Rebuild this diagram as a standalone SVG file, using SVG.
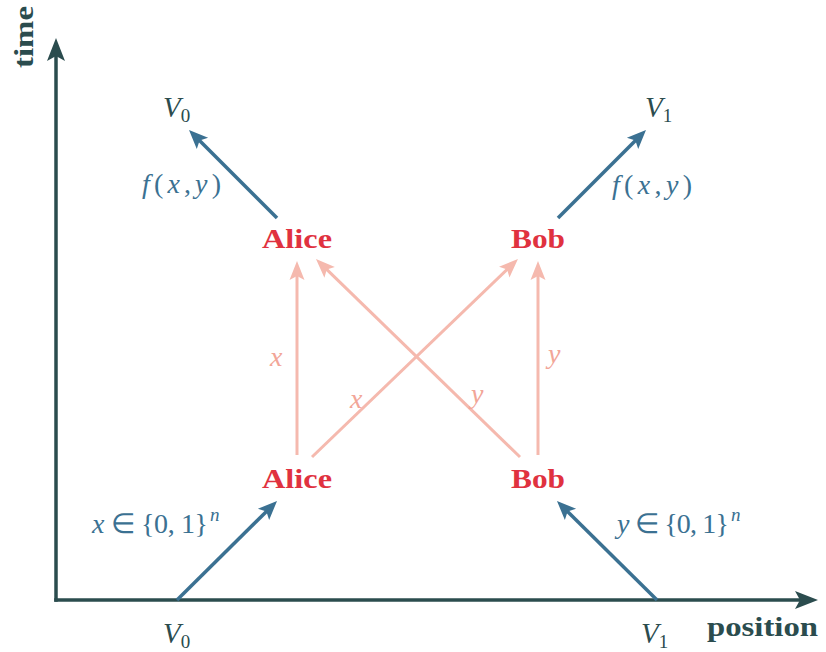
<svg xmlns="http://www.w3.org/2000/svg" width="826" height="652" viewBox="0 0 826 652">
<style>
.axis{stroke:#2b4c4e;stroke-width:3.5;fill:none}
.blue{stroke:#3b7192;stroke-width:3.5;fill:none}
.pink{stroke:#f5b9ae;stroke-width:3;fill:none}
.name{fill:#e0323f}
.dark{fill:#2b4c4e}
.it{font-style:italic}
.mb{fill:#3b7192}
.mp{fill:#f2a698}
</style>
<defs>
<marker id="ha" markerUnits="userSpaceOnUse" markerWidth="40" markerHeight="40" viewBox="-20 -20 40 40" refX="0" refY="0" orient="auto" overflow="visible">
<path d="M14,0 L-9,-9 L-4,0 L-9,9 Z" fill="#2b4c4e"/>
</marker>
<marker id="hb" markerUnits="userSpaceOnUse" markerWidth="40" markerHeight="40" viewBox="-20 -20 40 40" refX="0" refY="0" orient="auto" overflow="visible">
<path d="M12,0 L-7,-8 L-3,0 L-7,8 Z" fill="#3b7192"/>
</marker>
<marker id="hp" markerUnits="userSpaceOnUse" markerWidth="40" markerHeight="40" viewBox="-20 -20 40 40" refX="0" refY="0" orient="auto" overflow="visible">
<path d="M12,0 L-7,-7.5 L-3,0 L-7,7.5 Z" fill="#f5b9ae"/>
</marker>
</defs>

<g id="connectors">
<path class="axis" d="M56,601.75 L56,52" marker-end="url(#ha)"/>
<path class="axis" d="M54.25,600 L804,600" marker-end="url(#ha)"/>
<path class="blue" d="M177,600 L268.5,509.4" marker-end="url(#hb)"/>
<path class="blue" d="M657,600 L565.5,509.4" marker-end="url(#hb)"/>
<path class="blue" d="M277,218 L197.5,138.5" marker-end="url(#hb)"/>
<path class="blue" d="M558,218 L637.5,138.5" marker-end="url(#hb)"/>
<path class="pink" d="M297,455 L297,273" marker-end="url(#hp)"/>
<path class="pink" d="M538,455 L538,273" marker-end="url(#hp)"/>
<path class="pink" d="M312,457 L509.3,267.3" marker-end="url(#hp)"/>
<path class="pink" d="M520,457 L324.6,267.4" marker-end="url(#hp)"/>
</g>

<g font-family="'Liberation Serif', 'Times New Roman', serif">
<g id="axis-labels" font-weight="bold" font-size="28">
<text class="dark" transform="translate(33,68) rotate(-90)" textLength="62" lengthAdjust="spacingAndGlyphs">time</text>
<text class="dark" x="707" y="636" textLength="111" lengthAdjust="spacingAndGlyphs">position</text>
</g>

<g font-size="29">
<g id="V0-bottom"><text class="dark" x="163" y="643"><tspan class="it">V</tspan><tspan font-size="19" dy="5">0</tspan></text></g>
<g id="V1-bottom"><text class="dark" x="641" y="643"><tspan class="it">V</tspan><tspan font-size="19" dy="5">1</tspan></text></g>
<g id="V0-top"><text class="dark" x="163" y="117"><tspan class="it">V</tspan><tspan font-size="19" dy="5">0</tspan></text></g>
<g id="V1-top"><text class="dark" x="645" y="117"><tspan class="it">V</tspan><tspan font-size="19" dy="5">1</tspan></text></g>
</g>

<g font-weight="bold" font-size="28">
<g id="alice-bottom"><text class="name" x="262" y="488" textLength="70" lengthAdjust="spacingAndGlyphs">Alice</text></g>
<g id="bob-bottom"><text class="name" x="511" y="488" textLength="54" lengthAdjust="spacingAndGlyphs">Bob</text></g>
<g id="alice-top"><text class="name" x="262" y="248" textLength="70" lengthAdjust="spacingAndGlyphs">Alice</text></g>
<g id="bob-top"><text class="name" x="511" y="248" textLength="54" lengthAdjust="spacingAndGlyphs">Bob</text></g>
</g>

<g id="edge-labels" font-size="28">
<text class="mb" x="92" y="533" textLength="116" lengthAdjust="spacing"><tspan class="it">x</tspan> ∈ {0, 1}</text>
<text class="mb it" x="210" y="521" font-size="19">n</text>
<text class="mb" x="617" y="533" textLength="112" lengthAdjust="spacing"><tspan class="it">y</tspan> ∈ {0, 1}</text>
<text class="mb it" x="731" y="521" font-size="19">n</text>
<text class="mb" x="142" y="193" textLength="79" lengthAdjust="spacing"><tspan class="it">f</tspan>(<tspan class="it">x</tspan>,<tspan class="it">y</tspan>)</text>
<text class="mb" x="612" y="194" textLength="80" lengthAdjust="spacing"><tspan class="it">f</tspan>(<tspan class="it">x</tspan>,<tspan class="it">y</tspan>)</text>
<text class="mp it" x="270" y="366">x</text>
<text class="mp it" x="350" y="408">x</text>
<text class="mp it" x="471" y="403">y</text>
<text class="mp it" x="548" y="363">y</text>
</g>
</g>
</svg>
